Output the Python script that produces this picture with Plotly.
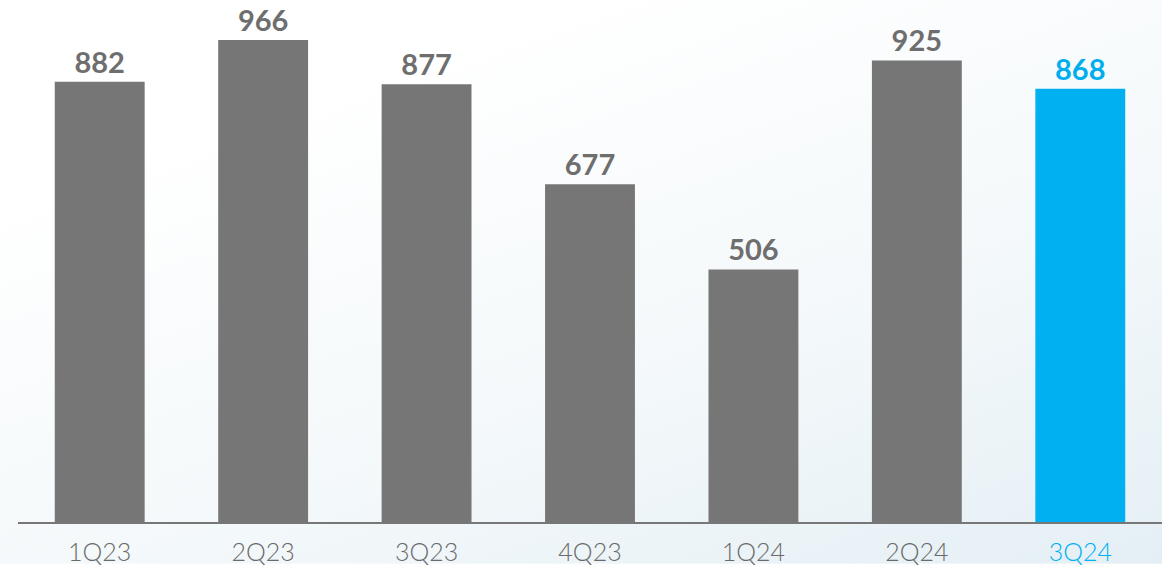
import base64
import plotly.graph_objects as go

# Quarterly values
quarters = ["1Q23", "2Q23", "3Q23", "4Q23", "1Q24", "2Q24", "3Q24"]
values = [882, 966, 877, 677, 506, 925, 868]

GRAY = "#767676"
BLUE = "#00b0f0"
bar_colors = [GRAY] * (len(quarters) - 1) + [BLUE]
label_colors = ["#6e6e6e"] * (len(quarters) - 1) + ["#00aeef"]

# soft diagonal background wash, white at left to pale blue at lower right
svg = (
    '<svg xmlns="http://www.w3.org/2000/svg" width="1162" height="566">'
    '<defs><linearGradient id="g" x1="0.35" y1="0.1" x2="1" y2="1">'
    '<stop offset="0" stop-color="#ffffff"/>'
    '<stop offset="0.55" stop-color="#f3f8fa"/>'
    '<stop offset="1" stop-color="#e4eff5"/>'
    '</linearGradient></defs>'
    '<rect width="1162" height="566" fill="url(#g)"/></svg>'
)
bg_uri = "data:image/svg+xml;base64," + base64.b64encode(svg.encode()).decode()

fig = go.Figure(
    go.Bar(
        x=quarters,
        y=values,
        width=0.55,
        marker=dict(color=bar_colors, line=dict(width=0)),
        text=[str(v) for v in values],
        textposition="outside",
        textfont=dict(family="Lato", size=29, color=label_colors, weight="bold"),
        cliponaxis=False,
        hoverinfo="skip",
    )
)

fig.update_layout(
    width=1162,
    height=566,
    margin=dict(l=18, r=0, t=0, b=42),
    paper_bgcolor="rgba(0,0,0,0)",
    plot_bgcolor="rgba(0,0,0,0)",
    showlegend=False,
    images=[
        dict(
            source=bg_uri,
            xref="paper", yref="paper",
            x=-18 / 1144, y=1,
            sizex=1162 / 1144, sizey=566 / 524,
            xanchor="left", yanchor="top",
            sizing="stretch",
            layer="below",
        )
    ],
)

fig.update_xaxes(
    showline=True,
    linecolor="#777777",
    linewidth=2,
    showgrid=False,
    ticks="",
    tickfont=dict(family="Lato", size=25, color="#6a6a6a", weight=300),
    ticklabelstandoff=7,
)
fig.update_yaxes(
    range=[0, 1046],
    visible=False,
    showgrid=False,
)

# highlight the latest quarter's tick label in blue
fig.update_xaxes(
    tickmode="array",
    tickvals=quarters,
    ticktext=[q if i < len(quarters) - 1 else f'<span style="color:{BLUE}">{q}</span>'
              for i, q in enumerate(quarters)],
)

fig.write_html("out.html")
